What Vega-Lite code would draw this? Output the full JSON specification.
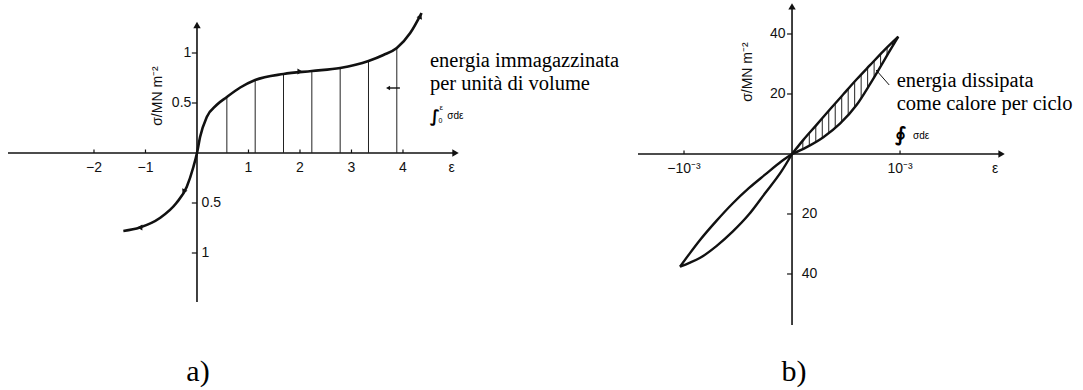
{
  "$schema": "https://vega.github.io/schema/vega-lite/v6.json",
  "width": 1083,
  "height": 390,
  "autosize": {"type": "fit", "contains": "padding"},
  "padding": 0,
  "background": "white",
  "config": {"view": {"stroke": null}},
  "datasets": {
    "aCurve": [
      {"x": -1.43, "y": -0.78}, {"x": -1.11, "y": -0.745}, {"x": -0.72, "y": -0.65},
      {"x": -0.40, "y": -0.50}, {"x": -0.20, "y": -0.34}, {"x": -0.07, "y": -0.14},
      {"x": 0, "y": 0}, {"x": 0.06, "y": 0.16}, {"x": 0.19, "y": 0.36},
      {"x": 0.38, "y": 0.48}, {"x": 0.58, "y": 0.56}, {"x": 0.84, "y": 0.655},
      {"x": 1.13, "y": 0.73}, {"x": 1.68, "y": 0.79}, {"x": 2.23, "y": 0.82},
      {"x": 2.78, "y": 0.85}, {"x": 3.33, "y": 0.92}, {"x": 3.62, "y": 0.98},
      {"x": 3.88, "y": 1.05}, {"x": 4.14, "y": 1.2}, {"x": 4.36, "y": 1.40}
    ],
    "aHatch": [
      {"x": 0.58, "y": 0, "y2": 0.56}, {"x": 1.13, "y": 0, "y2": 0.73},
      {"x": 1.68, "y": 0, "y2": 0.79}, {"x": 2.23, "y": 0, "y2": 0.82},
      {"x": 2.78, "y": 0, "y2": 0.85}, {"x": 3.33, "y": 0, "y2": 0.92},
      {"x": 3.88, "y": 0, "y2": 1.05}
    ],
    "aAxes": [
      {"x": -3.67, "x2": 4.98, "y": 0, "y2": 0},
      {"x": 0, "x2": 0, "y": -1.49, "y2": 1.26}
    ],
    "aTicks": [
      {"x": -2, "x2": -2, "y": 0, "y2": 0.035}, {"x": -1, "x2": -1, "y": 0, "y2": 0.035},
      {"x": 1, "x2": 1, "y": 0, "y2": 0.035}, {"x": 2, "x2": 2, "y": 0, "y2": 0.035},
      {"x": 3, "x2": 3, "y": 0, "y2": 0.035}, {"x": 4, "x2": 4, "y": 0, "y2": 0.035},
      {"x": -0.1, "x2": 0, "y": 0.5, "y2": 0.5}, {"x": -0.1, "x2": 0, "y": 1, "y2": 1},
      {"x": -0.1, "x2": 0, "y": -0.5, "y2": -0.5}, {"x": -0.1, "x2": 0, "y": -1, "y2": -1}
    ],
    "aXLabels": [
      {"x": -2, "y": -0.15, "label": "−2"}, {"x": -1, "y": -0.15, "label": "−1"},
      {"x": 1, "y": -0.15, "label": "1"}, {"x": 2, "y": -0.15, "label": "2"},
      {"x": 3, "y": -0.15, "label": "3"}, {"x": 4, "y": -0.15, "label": "4"},
      {"x": 4.945, "y": -0.15, "label": "ε"}
    ],
    "aYLabelsPos": [
      {"x": -0.11, "y": 0.5, "label": "0.5"}, {"x": -0.11, "y": 1, "label": "1"}
    ],
    "aYLabelsNeg": [
      {"x": 0.09, "y": -0.5, "label": "0.5"}, {"x": 0.09, "y": -1, "label": "1"}
    ],
    "aTitle": [{"x": -0.757, "y": 0.57, "label": "σ/MN m⁻²"}],
    "aNote": [
      {"x": 4.524, "y": 0.86, "label": "energia immagazzinata"},
      {"x": 4.524, "y": 0.63, "label": "per unità di volume"}
    ],
    "aArrow": [{"x": 3.94, "x2": 3.74, "y": 0.65, "y2": 0.65}],
    "aArrowTip": [{"x": 3.71, "y": 0.65}],
    "aPanel": [{"x": 0.02, "y": -2.28, "label": "a)"}],
    "bLoop": [
      {"branch": "tension, loading", "x": 0, "y": 0}, {"branch": "tension, loading", "x": 0.105, "y": 4.7},
      {"branch": "tension, loading", "x": 0.229, "y": 9.8}, {"branch": "tension, loading", "x": 0.352, "y": 14.9},
      {"branch": "tension, loading", "x": 0.475, "y": 19.9}, {"branch": "tension, loading", "x": 0.599, "y": 24.9},
      {"branch": "tension, loading", "x": 0.722, "y": 29.6}, {"branch": "tension, loading", "x": 0.846, "y": 34.3},
      {"branch": "tension, loading", "x": 0.984, "y": 39.1},
      {"branch": "tension, unloading", "x": 0, "y": 0}, {"branch": "tension, unloading", "x": 0.136, "y": 2.3},
      {"branch": "tension, unloading", "x": 0.29, "y": 5.6}, {"branch": "tension, unloading", "x": 0.444, "y": 10.1},
      {"branch": "tension, unloading", "x": 0.599, "y": 16.4}, {"branch": "tension, unloading", "x": 0.722, "y": 23.3},
      {"branch": "tension, unloading", "x": 0.799, "y": 27.9}, {"branch": "tension, unloading", "x": 0.892, "y": 33.6},
      {"branch": "tension, unloading", "x": 0.984, "y": 39.1},
      {"branch": "compression, loading", "x": -1.037, "y": -37.57}, {"branch": "compression, loading", "x": -0.95, "y": -36.3},
      {"branch": "compression, loading", "x": -0.85, "y": -34.6}, {"branch": "compression, loading", "x": -0.7, "y": -30.7},
      {"branch": "compression, loading", "x": -0.55, "y": -25.9}, {"branch": "compression, loading", "x": -0.4, "y": -20.2},
      {"branch": "compression, loading", "x": -0.25, "y": -13.1}, {"branch": "compression, loading", "x": -0.1, "y": -5.9},
      {"branch": "compression, loading", "x": 0, "y": 0},
      {"branch": "compression, unloading", "x": -1.037, "y": -37.57}, {"branch": "compression, unloading", "x": -0.95, "y": -33.3},
      {"branch": "compression, unloading", "x": -0.85, "y": -28.6}, {"branch": "compression, unloading", "x": -0.7, "y": -22.3},
      {"branch": "compression, unloading", "x": -0.55, "y": -16.5}, {"branch": "compression, unloading", "x": -0.4, "y": -11.4},
      {"branch": "compression, unloading", "x": -0.25, "y": -6.9}, {"branch": "compression, unloading", "x": -0.1, "y": -2.5},
      {"branch": "compression, unloading", "x": 0, "y": 0}
    ],
    "bHatch": [
      {"x": 0.10, "y": 1.7, "y2": 4.5}, {"x": 0.16, "y": 2.75, "y2": 7.0},
      {"x": 0.22, "y": 4.05, "y2": 9.4}, {"x": 0.28, "y": 5.35, "y2": 11.9},
      {"x": 0.34, "y": 7.0, "y2": 14.4}, {"x": 0.40, "y": 8.75, "y2": 16.9},
      {"x": 0.46, "y": 10.7, "y2": 19.3}, {"x": 0.52, "y": 13.1, "y2": 21.8},
      {"x": 0.58, "y": 15.5, "y2": 24.1}, {"x": 0.64, "y": 18.7, "y2": 26.5},
      {"x": 0.70, "y": 22.1, "y2": 28.8}, {"x": 0.76, "y": 25.6, "y2": 31.0},
      {"x": 0.82, "y": 29.2, "y2": 33.2}, {"x": 0.88, "y": 32.9, "y2": 35.4},
      {"x": 0.93, "y": 35.9, "y2": 37.2}
    ],
    "bAxes": [
      {"x": -1.426, "x2": 1.92, "y": 0, "y2": 0},
      {"x": 0, "x2": 0, "y": -57, "y2": 48.5}
    ],
    "bTicks": [
      {"x": -1, "x2": -1, "y": 0, "y2": 1.2}, {"x": 1, "x2": 1, "y": 0, "y2": 1.2},
      {"x": -0.046, "x2": 0, "y": 40, "y2": 40}, {"x": -0.046, "x2": 0, "y": 20, "y2": 20},
      {"x": -0.046, "x2": 0, "y": -20, "y2": -20}, {"x": -0.046, "x2": 0, "y": -40, "y2": -40}
    ],
    "bXLabels": [
      {"x": -1, "y": -5, "label": "−10⁻³"}, {"x": 1, "y": -5, "label": "10⁻³"},
      {"x": 1.88, "y": -5, "label": "ε"}
    ],
    "bYLabelsPos": [
      {"x": -0.06, "y": 40, "label": "40"}, {"x": -0.06, "y": 20, "label": "20"}
    ],
    "bYLabelsNeg": [
      {"x": 0.09, "y": -20, "label": "20"}, {"x": 0.09, "y": -40, "label": "40"}
    ],
    "bTitle": [{"x": -0.407, "y": 27.3, "label": "σ/MN m⁻²"}],
    "bNote": [
      {"x": 0.969, "y": 22.2, "label": "energia dissipata"},
      {"x": 0.969, "y": 14.7, "label": "come calore per ciclo"}
    ],
    "bLeader": [{"x": 0.778, "x2": 0.9, "y": 28, "y2": 23}],
    "bPanel": [{"x": 0.0185, "y": -75.7, "label": "b)"}]
  },
  "layer": [
    {
      "encoding": {
        "x": {"field": "x", "type": "quantitative", "scale": {"domain": [-3.825, 17.204], "nice": false, "zero": false}, "axis": null},
        "y": {"field": "y", "type": "quantitative", "scale": {"domain": [-2.37, 1.53], "nice": false, "zero": false}, "axis": null}
      },
      "layer": [
        {
          "data": {"name": "aAxes"},
          "mark": {"type": "rule", "color": "#111", "strokeWidth": 1.6},
          "encoding": {"x2": {"field": "x2"}, "y2": {"field": "y2"}}
        },
        {
          "data": {"name": "aTicks"},
          "mark": {"type": "rule", "color": "#111", "strokeWidth": 1.2},
          "encoding": {"x2": {"field": "x2"}, "y2": {"field": "y2"}}
        },
        {
          "data": {"values": [{"x": 5.02, "y": 0}]},
          "mark": {"type": "point", "shape": "triangle-right", "filled": true, "color": "#111", "opacity": 1, "size": 55}
        },
        {
          "data": {"values": [{"x": 0, "y": 1.28}]},
          "mark": {"type": "point", "shape": "triangle-up", "filled": true, "color": "#111", "opacity": 1, "size": 55}
        },
        {
          "data": {"name": "aHatch"},
          "mark": {"type": "rule", "color": "#222", "strokeWidth": 1},
          "encoding": {"y2": {"field": "y2"}}
        },
        {
          "data": {"name": "aCurve"},
          "mark": {"type": "line", "color": "#111", "strokeWidth": 2.6, "interpolate": "monotone"}
        },
        {
          "data": {"values": [{"x": -1.11, "y": -0.745}]},
          "mark": {"type": "point", "shape": "triangle-left", "filled": true, "color": "#111", "opacity": 1, "size": 35}
        },
        {
          "data": {"values": [{"x": -0.25, "y": -0.38}]},
          "mark": {"type": "point", "shape": "triangle", "angle": 205, "filled": true, "color": "#111", "opacity": 1, "size": 35}
        },
        {
          "data": {"values": [{"x": 2.0, "y": 0.815}]},
          "mark": {"type": "point", "shape": "triangle-right", "filled": true, "color": "#111", "opacity": 1, "size": 35}
        },
        {
          "data": {"values": [{"x": 4.33, "y": 1.36}]},
          "mark": {"type": "point", "shape": "triangle", "angle": 25, "filled": true, "color": "#111", "opacity": 1, "size": 35}
        },
        {
          "data": {"name": "aXLabels"},
          "mark": {"type": "text", "font": "Liberation Sans", "fontSize": 14, "align": "center", "baseline": "middle", "color": "#111"},
          "encoding": {"text": {"field": "label"}}
        },
        {
          "data": {"name": "aYLabelsPos"},
          "mark": {"type": "text", "font": "Liberation Sans", "fontSize": 14, "align": "right", "baseline": "middle", "color": "#111"},
          "encoding": {"text": {"field": "label"}}
        },
        {
          "data": {"name": "aYLabelsNeg"},
          "mark": {"type": "text", "font": "Liberation Sans", "fontSize": 14, "align": "left", "baseline": "middle", "color": "#111"},
          "encoding": {"text": {"field": "label"}}
        },
        {
          "data": {"name": "aTitle"},
          "mark": {"type": "text", "font": "Liberation Sans", "fontSize": 14, "angle": 270, "align": "center", "baseline": "middle", "color": "#111"},
          "encoding": {"text": {"field": "label"}}
        },
        {
          "data": {"name": "aNote"},
          "mark": {"type": "text", "font": "Liberation Serif", "fontSize": 20.5, "align": "left", "baseline": "alphabetic", "color": "#000"},
          "encoding": {"text": {"field": "label"}}
        },
        {
          "data": {"values": [{"x": 4.52, "y": 0.31, "label": "∫"}]},
          "mark": {"type": "text", "font": "DejaVu Sans", "fontSize": 17, "fontWeight": "bold", "align": "left", "baseline": "alphabetic", "color": "#000"},
          "encoding": {"text": {"field": "label"}}
        },
        {
          "data": {"values": [{"x": 4.71, "y": 0.43, "label": "ε"}]},
          "mark": {"type": "text", "font": "Liberation Sans", "fontSize": 8, "align": "left", "baseline": "alphabetic", "color": "#000"},
          "encoding": {"text": {"field": "label"}}
        },
        {
          "data": {"values": [{"x": 4.69, "y": 0.3, "label": "0"}]},
          "mark": {"type": "text", "font": "Liberation Sans", "fontSize": 7, "align": "left", "baseline": "alphabetic", "color": "#000"},
          "encoding": {"text": {"field": "label"}}
        },
        {
          "data": {"values": [{"x": 4.86, "y": 0.34, "label": "σdε"}]},
          "mark": {"type": "text", "font": "Liberation Sans", "fontSize": 10, "align": "left", "baseline": "alphabetic", "color": "#000"},
          "encoding": {"text": {"field": "label"}}
        },
        {
          "data": {"name": "aArrow"},
          "mark": {"type": "rule", "color": "#111", "strokeWidth": 1.4},
          "encoding": {"x2": {"field": "x2"}, "y2": {"field": "y2"}}
        },
        {
          "data": {"name": "aArrowTip"},
          "mark": {"type": "point", "shape": "triangle-left", "filled": true, "color": "#111", "opacity": 1, "size": 22}
        },
        {
          "data": {"name": "aPanel"},
          "mark": {"type": "text", "font": "Liberation Serif", "fontSize": 30, "align": "center", "baseline": "alphabetic", "color": "#000"},
          "encoding": {"text": {"field": "label"}}
        }
      ]
    },
    {
      "encoding": {
        "x": {"field": "x", "type": "quantitative", "scale": {"domain": [-7.333, 2.694], "nice": false, "zero": false}, "axis": null},
        "y": {"field": "y", "type": "quantitative", "scale": {"domain": [-78.67, 51.33], "nice": false, "zero": false}, "axis": null}
      },
      "layer": [
        {
          "data": {"name": "bAxes"},
          "mark": {"type": "rule", "color": "#111", "strokeWidth": 1.6},
          "encoding": {"x2": {"field": "x2"}, "y2": {"field": "y2"}}
        },
        {
          "data": {"name": "bTicks"},
          "mark": {"type": "rule", "color": "#111", "strokeWidth": 1.2},
          "encoding": {"x2": {"field": "x2"}, "y2": {"field": "y2"}}
        },
        {
          "data": {"values": [{"x": 1.94, "y": 0}]},
          "mark": {"type": "point", "shape": "triangle-right", "filled": true, "color": "#111", "opacity": 1, "size": 55}
        },
        {
          "data": {"values": [{"x": 0, "y": 49.2}]},
          "mark": {"type": "point", "shape": "triangle-up", "filled": true, "color": "#111", "opacity": 1, "size": 55}
        },
        {
          "data": {"name": "bHatch"},
          "mark": {"type": "rule", "color": "#222", "strokeWidth": 1},
          "encoding": {"y2": {"field": "y2"}}
        },
        {
          "data": {"name": "bLoop"},
          "mark": {"type": "line", "color": "#111", "strokeWidth": 2.4, "interpolate": "monotone", "strokeJoin": "miter"},
          "encoding": {"detail": {"field": "branch", "type": "nominal"}}
        },
        {
          "data": {"name": "bLeader"},
          "mark": {"type": "rule", "color": "#111", "strokeWidth": 1},
          "encoding": {"x2": {"field": "x2"}, "y2": {"field": "y2"}}
        },
        {
          "data": {"name": "bXLabels"},
          "mark": {"type": "text", "font": "Liberation Sans", "fontSize": 14, "align": "center", "baseline": "middle", "color": "#111"},
          "encoding": {"text": {"field": "label"}}
        },
        {
          "data": {"name": "bYLabelsPos"},
          "mark": {"type": "text", "font": "Liberation Sans", "fontSize": 14, "align": "right", "baseline": "middle", "color": "#111"},
          "encoding": {"text": {"field": "label"}}
        },
        {
          "data": {"name": "bYLabelsNeg"},
          "mark": {"type": "text", "font": "Liberation Sans", "fontSize": 14, "align": "left", "baseline": "middle", "color": "#111"},
          "encoding": {"text": {"field": "label"}}
        },
        {
          "data": {"name": "bTitle"},
          "mark": {"type": "text", "font": "Liberation Sans", "fontSize": 14, "angle": 270, "align": "center", "baseline": "middle", "color": "#111"},
          "encoding": {"text": {"field": "label"}}
        },
        {
          "data": {"name": "bNote"},
          "mark": {"type": "text", "font": "Liberation Serif", "fontSize": 20.5, "align": "left", "baseline": "alphabetic", "color": "#000"},
          "encoding": {"text": {"field": "label"}}
        },
        {
          "data": {"values": [{"x": 0.954, "y": 4.3, "label": "∮"}]},
          "mark": {"type": "text", "font": "DejaVu Sans", "fontSize": 20, "fontWeight": "bold", "align": "left", "baseline": "alphabetic", "color": "#000"},
          "encoding": {"text": {"field": "label"}}
        },
        {
          "data": {"values": [{"x": 1.12, "y": 5.0, "label": "σdε"}]},
          "mark": {"type": "text", "font": "Liberation Sans", "fontSize": 10, "align": "left", "baseline": "alphabetic", "color": "#000"},
          "encoding": {"text": {"field": "label"}}
        },
        {
          "data": {"name": "bPanel"},
          "mark": {"type": "text", "font": "Liberation Serif", "fontSize": 30, "align": "center", "baseline": "alphabetic", "color": "#000"},
          "encoding": {"text": {"field": "label"}}
        }
      ]
    }
  ],
  "resolve": {"scale": {"x": "independent", "y": "independent"}}
}
